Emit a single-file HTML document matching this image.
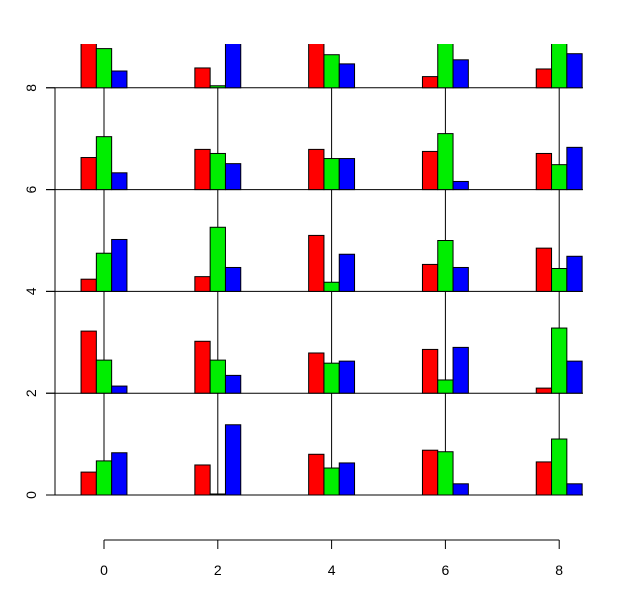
<!DOCTYPE html>
<html><head><meta charset="utf-8"><style>
body{margin:0;background:#fff}
svg{display:block;font-family:"Liberation Sans",Arial,sans-serif}
</style></head><body>
<svg id="c" width="621" height="598"></svg>
<script>
const xCats=[0,2,4,6,8];
const yCats=[0,2,4,6,8];
// values per row (y level), per column (x level): [red, green, blue]
const redVals=[[0.45,0.59,0.8,0.88,0.65],[1.22,1.02,0.79,0.86,0.1],[0.24,0.29,1.1,0.53,0.85],[0.63,0.79,0.79,0.75,0.71],[1.0,0.39,1.0,0.22,0.37]];
const greenVals=[[0.67,0.02,0.53,0.85,1.1],[0.65,0.65,0.59,0.26,1.28],[0.75,1.26,0.18,1.0,0.45],[1.04,0.71,0.61,1.1,0.49],[0.77,0.04,0.65,1.0,1.0]];
const blueVals=[[0.83,1.38,0.63,0.22,0.22],[0.14,0.35,0.63,0.9,0.63],[1.02,0.47,0.73,0.47,0.69],[0.33,0.51,0.61,0.16,0.83],[0.33,1.0,0.47,0.55,0.67]];
const xTicks=[0,2,4,6,8];
const yTicks=[0,2,4,6,8];
const X=v=>104+v*56.9;
const Y=v=>495-v*50.9;
const svg=document.getElementById('c');
const NS='http://www.w3.org/2000/svg';
function mk(t,a){const e=document.createElementNS(NS,t);for(const k in a)e.setAttribute(k,a[k]);svg.appendChild(e);return e;}
const defs=mk('defs',{});
const cp=document.createElementNS(NS,'clipPath');cp.setAttribute('id','clip');
const cr=document.createElementNS(NS,'rect');cr.setAttribute('x',40);cr.setAttribute('y',44);cr.setAttribute('width',560);cr.setAttribute('height',470);
cp.appendChild(cr);defs.appendChild(cp);
// grid lines
yCats.forEach(v=>{const l=mk('line',{x1:46,x2:583,y1:Y(v),y2:Y(v),stroke:'#000','stroke-width':1});

});
xCats.forEach(v=>{const l=mk('line',{x1:X(v),x2:X(v),y1:Y(0),y2:Y(8),stroke:'#000','stroke-width':1});

});
const bw=15.3;
const series=[[redVals,'#ff0000','red'],[greenVals,'#00ee00','green'],[blueVals,'#0000ff','blue']];
yCats.forEach((yv,ri)=>{xCats.forEach((xv,ci)=>{series.forEach((s,si)=>{
 const h=s[0][ri][ci]*50.9;
 const x0=X(xv)-1.5*bw+si*bw;
 const r=mk('rect',{x:x0,y:Y(yv)-h,width:bw,height:h,fill:s[1],stroke:'#000','stroke-width':1,'clip-path':'url(#clip)'});
 
 
});});});
// y axis
const ya=mk('line',{x1:55,x2:55,y1:Y(0),y2:Y(8),stroke:'#000'});


yTicks.forEach(v=>{const t=mk('line',{x1:46,x2:55,y1:Y(v),y2:Y(v),stroke:'#000'});


const tx=mk('text',{x:36,y:Y(v),'font-size':14,'text-anchor':'middle',transform:'rotate(-90 36 '+Y(v)+')'});tx.textContent=v;

});
// x axis
const xa=mk('line',{x1:X(0),x2:X(8),y1:540,y2:540,stroke:'#000'});


xTicks.forEach(v=>{const t=mk('line',{x1:X(v),x2:X(v),y1:540,y2:549,stroke:'#000'});


const tx=mk('text',{x:X(v),y:575,'font-size':14,'text-anchor':'middle'});tx.textContent=v;

});
</script>
</body></html>
